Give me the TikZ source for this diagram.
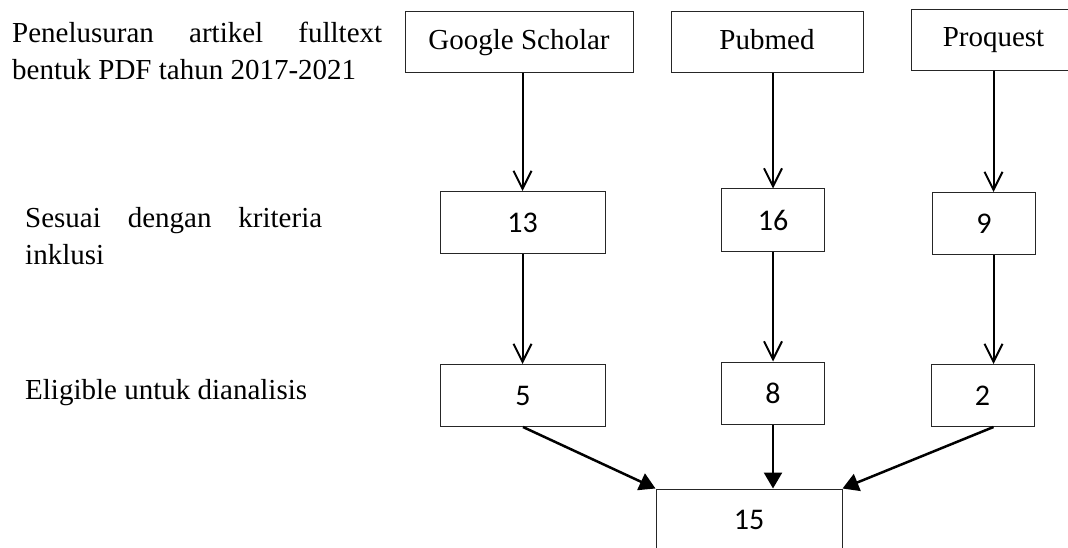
\documentclass[tikz,border=0pt]{standalone}
\usepackage{fontspec}
\setmainfont{Liberation Serif}
\newfontfamily\numfont{Carlito}
\usetikzlibrary{arrows.meta}
\hyphenpenalty=10000
\tolerance=10000

\begin{document}
\begin{tikzpicture}[
    x=1pt, y=-1pt,
    source/.style={
        rectangle,
        draw=black!85,
        line width=1pt,
        inner sep=0pt,
        minimum height=61pt,
        text height=20pt,
        text depth=6.5pt,
        font=\fontsize{29}{36}\selectfont
    },
    count/.style={
        rectangle,
        draw=black!85,
        line width=1pt,
        inner sep=0pt,
        minimum width=103pt,
        minimum height=62pt,
        font=\numfont\fontsize{30}{36}\selectfont
    },
    rowlabel/.style={
        anchor=base west,
        inner sep=0pt,
        align=justify,
        font=\fontsize{29}{37}\selectfont
    },
    arrow/.style={
        -{Straight Barb[length=18pt,width=18pt]},
        line width=2pt
    },
    merge/.style={
        -{Triangle[length=16pt,width=18pt]},
        line width=2.5pt
    }
]

\useasboundingbox (0,0) rectangle (1068,548);

% Row labels on the left
\node[rowlabel, text width=370pt] (lblsearch) at (12,43) {Penelusuran artikel fulltext bentuk PDF tahun 2017-2021};
\node[rowlabel, text width=297pt] (lblinclude) at (25,227) {Sesuai dengan kriteria inklusi};
\node[rowlabel] (lbleligible) at (25,399) {Eligible untuk dianalisis};

% Sources
\node[source, minimum width=228pt] (scholar) at (519,42.5) {Google Scholar};
\node[source, minimum width=192pt] (pubmed) at (767,42.5) {Pubmed};
\node[source, minimum width=165pt] (proquest) at (993.5,40) {Proquest};

% Articles matching the inclusion criteria
\node[count, minimum width=165pt] (incl13) at (522.5,222.5) {13};
\node[count] (incl16) at (773,220) {16};
\node[count] (incl9) at (984,223.5) {9};

% Eligible articles
\node[count, minimum width=165pt] (elig5) at (523,395.5) {5};
\node[count] (elig8) at (773,393) {8};
\node[count] (elig2) at (982.5,395.5) {2};

% Total
\node[count, minimum width=186pt] (total) at (749,520) {15};

% Arrows down each column
\draw[arrow] (scholar.south -| incl13.north) -- (incl13.north);
\draw[arrow] (incl13.south) -- (incl13.south |- elig5.north);
\draw[arrow] (pubmed.south -| incl16.north) -- (incl16.north);
\draw[arrow] (incl16.south) -- (elig8.north);
\draw[arrow] (proquest.south) -- (proquest.south |- incl9.north);
\draw[arrow] (incl9.south -| proquest.south) -- (elig2.north -| proquest.south);

% Arrows into the total
\draw[merge] (elig5.south) -- (total.north west);
\draw[merge] (elig8.south) -- (total.north -| elig8.south);
\draw[merge] (elig2.south -| proquest.south) -- (total.north east);

\end{tikzpicture}
\end{document}
